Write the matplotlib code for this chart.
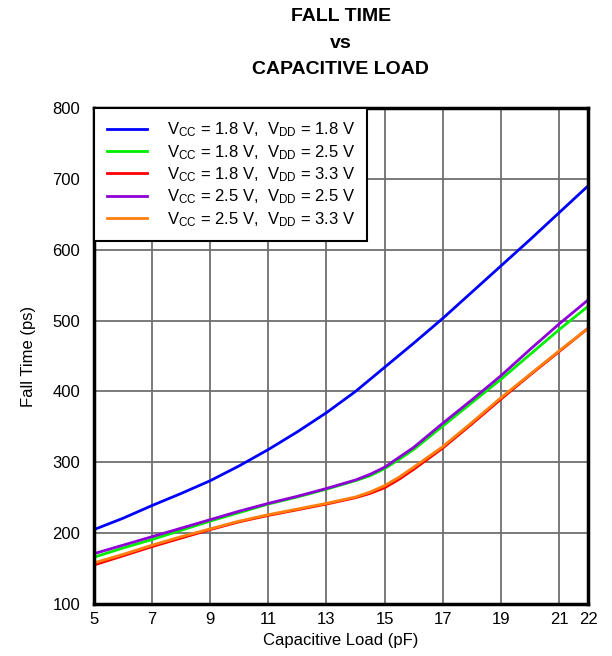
import matplotlib
matplotlib.use("Agg")
import matplotlib.pyplot as plt

plt.rcParams['font.family'] = ['Liberation Sans', 'DejaVu Sans']
plt.rcParams['mathtext.default'] = 'regular'

# capacitive load (pF)
load = [5, 6, 7, 8, 9, 10, 11, 12, 13, 14, 14.5, 15, 15.5, 16, 17, 18, 19, 20, 21, 22]

# fall time (ps)
t_18_18 = [205, 221, 239, 256, 274, 295, 318, 343, 370, 400, 417, 434, 451, 468, 503, 540, 577, 614, 652, 690]
t_18_25 = [166, 179, 191, 204, 217, 229, 241, 251, 262, 274, 281, 291, 304, 318, 351, 384, 417, 452, 487, 520]
t_18_33 = [155, 168, 181, 193, 205, 216, 225, 233, 241, 250, 256, 264, 276, 290, 320, 354, 389, 423, 456, 489]
t_25_25 = [171, 183, 195, 207, 219, 231, 242, 252, 263, 275, 283, 293, 307, 321, 355, 388, 422, 459, 495, 529]
t_25_33 = [158, 170, 183, 195, 206, 217, 226, 234, 242, 251, 258, 267, 279, 293, 322, 356, 391, 424, 457, 489]

labels = [
    r'V$_{CC}$ = 1.8 V,  V$_{DD}$ = 1.8 V',
    r'V$_{CC}$ = 1.8 V,  V$_{DD}$ = 2.5 V',
    r'V$_{CC}$ = 1.8 V,  V$_{DD}$ = 3.3 V',
    r'V$_{CC}$ = 2.5 V,  V$_{DD}$ = 2.5 V',
    r'V$_{CC}$ = 2.5 V,  V$_{DD}$ = 3.3 V',
]
series = [t_18_18, t_18_25, t_18_33, t_25_25, t_25_33]
colors = ['#0000ff', '#00ee00', '#ff0000', '#8f00d6', '#ff7f0e']

fig = plt.figure(figsize=(6.12, 6.56), dpi=100)
ax = fig.add_axes([0.1536, 0.0793, 0.8072, 0.7561])

for s, c, lab in zip(series, colors, labels):
    ax.plot(load, s, color=c, lw=2, label=lab)

ax.set_xlim(5, 22)
ax.set_ylim(100, 800)
ax.set_xticks([5, 7, 9, 11, 13, 15, 17, 19, 21, 22])
ax.set_yticks(range(100, 801, 100))
ax.grid(True, color='#707070', lw=1.3)
ax.tick_params(length=0, labelsize=12)
ax.tick_params(axis='y', pad=10)
ax.tick_params(axis='x', pad=6)
for sp in ax.spines.values():
    sp.set_linewidth(2.5)
    sp.set_zorder(5)

ax.set_xlabel('Capacitive Load (pF)', fontsize=12, labelpad=4)
ax.set_ylabel('Fall Time (ps)', fontsize=12, labelpad=12)

fig.text(0.557, 0.988, 'FALL TIME\nvs\nCAPACITIVE LOAD', ha='center', va='top',
         fontsize=14, fontweight='bold', linespacing=1.75)

leg = ax.legend(loc='upper left', bbox_to_anchor=(0, 1), borderaxespad=0,
                fontsize=12, fancybox=False, framealpha=1, edgecolor='black',
                handlelength=2.4, labelspacing=0.22, borderpad=0.75, handletextpad=1.2)
leg.get_frame().set_linewidth(1.5)

fig.savefig('out.png', dpi=100)
